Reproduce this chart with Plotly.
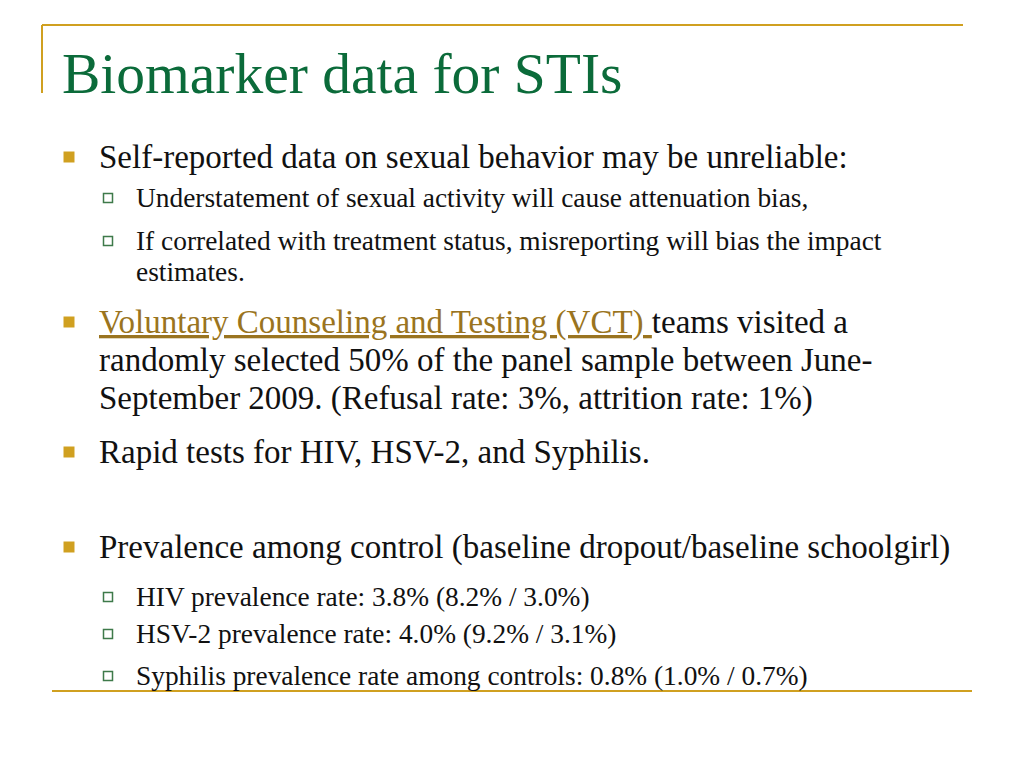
import plotly.graph_objects as go

# slide content
title = "Biomarker data for STIs"

level1_text = [
    "Self-reported data on sexual behavior may be unreliable:",
    "<span style='color:#9A7420;text-decoration:underline'>Voluntary Counseling and Testing (VCT) </span>teams visited a",
    "randomly selected 50% of the panel sample between June-",
    "September 2009. (Refusal rate: 3%, attrition rate: 1%)",
    "Rapid tests for HIV, HSV-2, and Syphilis.",
    "Prevalence among control (baseline dropout/baseline schoolgirl)",
]
level1_bullet = [True, True, False, False, True, True]

level2_text = [
    "Understatement of sexual activity will cause attenuation bias,",
    "If correlated with treatment status, misreporting will bias the impact",
    "estimates.",
    "HIV prevalence rate: 3.8% (8.2% / 3.0%)",
    "HSV-2 prevalence rate: 4.0% (9.2% / 3.1%)",
    "Syphilis prevalence rate among controls: 0.8% (1.0% / 0.7%)",
]
level2_bullet = [True, True, False, True, True, True]

# layout (pixel positions on the 1024x768 slide)
level1_y = [157, 322, 360, 398, 452, 547]
level2_y = [198, 241, 272, 597, 634, 676]

GOLD = "#D0A020"
GREEN = "#0B6B3A"
FONT = "Liberation Serif"
OFF = 8  # page body margin

fig = go.Figure()

fig.add_trace(go.Scatter(
    x=[69 for b in level1_bullet if b],
    y=[y for y, b in zip(level1_y, level1_bullet) if b],
    mode="markers",
    marker=dict(symbol="square", size=11, color=GOLD),
    hoverinfo="skip", showlegend=False,
))
fig.add_trace(go.Scatter(
    x=[108 for b in level2_bullet if b],
    y=[y for y, b in zip(level2_y, level2_bullet) if b],
    mode="markers",
    marker=dict(symbol="square", size=9, color="white",
                line=dict(color="#3E7A4A", width=1.5)),
    hoverinfo="skip", showlegend=False,
))

annotations = [dict(x=60, y=73, text=title, xanchor="left", yanchor="middle",
                    showarrow=False, font=dict(family=FONT, size=57.5, color=GREEN))]
for t, y in zip(level1_text, level1_y):
    annotations.append(dict(x=97, y=y, text=t, xanchor="left", yanchor="middle",
                            showarrow=False, font=dict(family=FONT, size=33, color="#111111")))
for t, y in zip(level2_text, level2_y):
    annotations.append(dict(x=134, y=y, text=t, xanchor="left", yanchor="middle",
                            showarrow=False, font=dict(family=FONT, size=27.4, color="#111111")))

shapes = [
    dict(type="line", x0=42, x1=963, y0=25, y1=25, line=dict(color=GOLD, width=2)),
    dict(type="line", x0=42, x1=42, y0=25, y1=93, line=dict(color=GOLD, width=2)),
    dict(type="line", x0=52, x1=972, y0=691, y1=691, line=dict(color=GOLD, width=2)),
]
for s in shapes:
    s.update(xref="x", yref="y")

fig.update_layout(
    width=1024, height=768,
    margin=dict(l=0, r=0, t=0, b=0),
    paper_bgcolor="white", plot_bgcolor="white",
    xaxis=dict(range=[OFF, 1024 + OFF], visible=False, fixedrange=True),
    yaxis=dict(range=[768 + OFF, OFF], visible=False, fixedrange=True),
    annotations=annotations,
    shapes=shapes,
)

fig.write_html("out.html")
